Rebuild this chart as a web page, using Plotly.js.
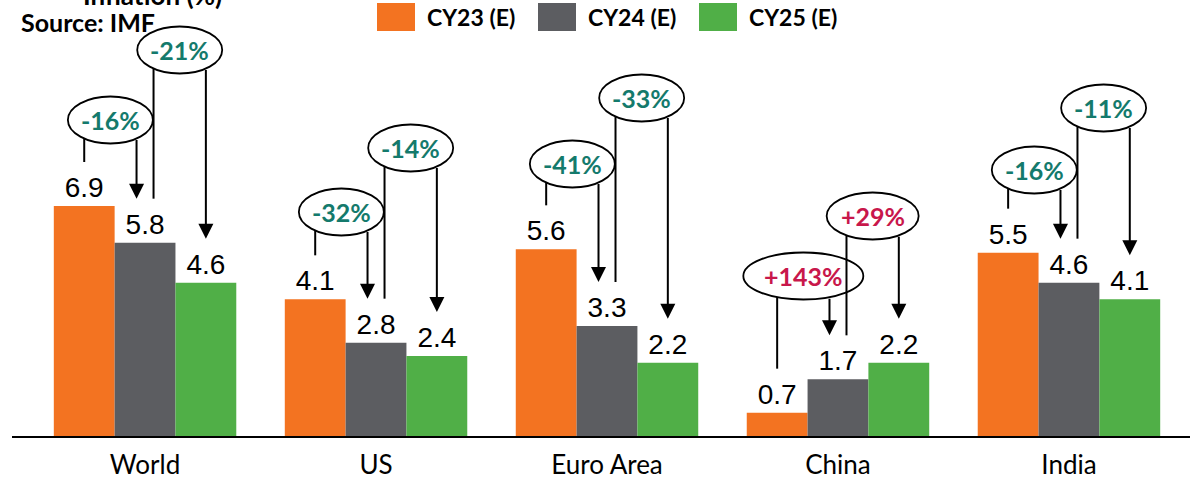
<!DOCTYPE html>
<html>
<head>
<meta charset="utf-8">
<script src="https://cdn.plot.ly/plotly-3.0.1.min.js"></script>
<style>
  html, body { margin: 0; padding: 0; background: #fff; }
  #chart { width: 1193px; height: 482px; }
</style>
</head>
<body>
<div id="chart"></div>
<script>
// ---------- data ----------
const categories = ['World', 'US', 'Euro Area', 'China', 'India'];
const seriesNames = ['CY23 (E)', 'CY24 (E)', 'CY25 (E)'];
const cy23 = [6.9, 4.1, 5.6, 0.7, 5.5];
const cy24 = [5.8, 2.8, 3.3, 1.7, 4.6];
const cy25 = [4.6, 2.4, 2.2, 2.2, 4.1];
const change23to24 = ['-16%', '-32%', '-41%', '+143%', '-16%'];
const change24to25 = ['-21%', '-14%', '-33%', '+29%', '-11%'];
const sourceText = 'Source: IMF';
const titleText = 'Inflation (%)';

// ---------- layout / style config ----------
const colors = ['#F37321', '#5C5D61', '#50AF47'];
const negColor = '#147A6C', posColor = '#C8174B';
const bubbleLevel1 = [9.48, 6.72, 8.16, 4.80, 7.98];   // vertical position of first bubble
const bubbleLevel2 = [11.58, 8.64, 10.14, 6.60, 9.84]; // vertical position of second bubble

const W = 1193, H = 482;
const M = {l: 12, r: 3, t: 0, b: 46};
const plotW = W - M.l - M.r, plotH = H - M.t - M.b;
const xRange = [-0.576, 4.524];
const yRange = [0, 13.08];
const pxX = plotW / (xRange[1] - xRange[0]);
const pxY = plotH / (yRange[1] - yRange[0]);
const bargap = 0.21;
const bw = (1 - bargap) / 3;
const inner = 8.5 / pxX;
const gap = 44 / pxY;

const series = [cy23, cy24, cy25];
const traces = series.map((vals, s) => ({
  type: 'bar',
  name: seriesNames[s],
  x: categories,
  y: vals,
  marker: {color: colors[s], line: {width: 0}},
  text: vals.map(v => v.toFixed(1)),
  textposition: 'outside',
  textfont: {family: 'Liberation Sans, Arial, sans-serif', size: 28, color: '#000'},
  cliponaxis: false,
  constraintext: 'none',
  hoverinfo: 'skip',
  showlegend: false
}));

const ellipses = [], lines = [], annotations = [];

function bubble(i, k, label, cyData) {
  const vals = [cy23[i], cy24[i], cy25[i]];
  const xL = k === 0 ? i - bw : i + inner;
  const xR = k === 0 ? i - inner : i + bw;
  const cx = (xL + xR) / 2;
  const wPx = 85 + (label.length - 4) * 28 + (label[0] === '+' ? 7 : 0);
  const hPx = 47;
  const a = wPx / 2, b = hPx / 2;
  const dxPx = (xR - xL) / 2 * pxX;
  const dyPx = b * Math.sqrt(Math.max(0, 1 - Math.pow(dxPx / a, 2)));
  const yEdge = cyData - dyPx / pxY;
  const yL = vals[k] + gap, yR = vals[k + 1] + gap;
  lines.push({type: 'line', xref: 'x', yref: 'y', x0: xL, x1: xL, y0: yEdge, y1: yL,
              line: {color: '#000', width: 2}});
  annotations.push({x: xR, y: yR, ax: xR, ay: yEdge, xref: 'x', yref: 'y', axref: 'x', ayref: 'y',
                    showarrow: true, arrowhead: 2, arrowsize: 1.5, arrowwidth: 2, arrowcolor: '#000',
                    text: '', standoff: 0});
  ellipses.push({type: 'circle', xref: 'x', yref: 'y',
                 x0: cx - a / pxX, x1: cx + a / pxX, y0: cyData - b / pxY, y1: cyData + b / pxY,
                 line: {color: '#000', width: 1.8}, fillcolor: '#fff'});
  annotations.push({x: cx, y: cyData, xref: 'x', yref: 'y', text: '<b>' + label + '</b>', showarrow: false,
                    font: {family: 'Lato, sans-serif', size: 25, color: label[0] === '+' ? posColor : negColor}});
}

categories.forEach((c, i) => {
  bubble(i, 0, change23to24[i], bubbleLevel1[i]);
  bubble(i, 1, change24to25[i], bubbleLevel2[i]);
});

// custom legend
const legendShapes = [];
seriesNames.forEach((n, s) => {
  const x0 = 377 + 161 * s;
  legendShapes.push({type: 'rect', xref: 'paper', yref: 'paper',
                     x0: (x0 - M.l) / plotW, x1: (x0 + 38 - M.l) / plotW,
                     y0: (H - M.b - 31) / plotH, y1: (H - M.b - 3) / plotH,
                     fillcolor: colors[s], line: {width: 0}});
  annotations.push({xref: 'paper', yref: 'paper', x: (x0 + 48 - M.l) / plotW, y: (H - M.b - 17) / plotH,
                    xanchor: 'left', yanchor: 'middle', showarrow: false, text: '<b>' + n + '</b>',
                    font: {family: 'Lato, sans-serif', size: 23, color: '#000'}});
});

annotations.push({xref: 'paper', yref: 'paper', x: (19 - M.l) / plotW, y: (H - M.b - 22) / plotH,
                  xanchor: 'left', yanchor: 'middle', showarrow: false, text: '<b>' + sourceText + '</b>',
                  font: {family: 'Lato, sans-serif', size: 25, color: '#000'}});
annotations.push({xref: 'paper', yref: 'paper', x: (224 - M.l) / plotW, y: (H - M.b - 13) / plotH,
                  xanchor: 'right', yanchor: 'bottom', showarrow: false, text: '<b>' + titleText + '</b>',
                  font: {family: 'Lato, sans-serif', size: 26, color: '#000'}});

const layout = {
  width: W, height: H,
  margin: M,
  paper_bgcolor: '#fff', plot_bgcolor: '#fff',
  barmode: 'group', bargap: bargap, bargroupgap: 0,
  showlegend: false,
  xaxis: {type: 'category', range: xRange, showline: true, linecolor: '#000', linewidth: 2,
          ticks: '', showgrid: false, zeroline: false, fixedrange: true, ticklabelstandoff: 5,
          tickfont: {family: 'Lato, sans-serif', size: 26, color: '#000'}},
  yaxis: {range: yRange, visible: false, showgrid: false, zeroline: false, fixedrange: true},
  shapes: ellipses.concat(lines, legendShapes),
  annotations: annotations
};

Plotly.newPlot('chart', traces, layout, {displayModeBar: false, staticPlot: true});
</script>
</body>
</html>
